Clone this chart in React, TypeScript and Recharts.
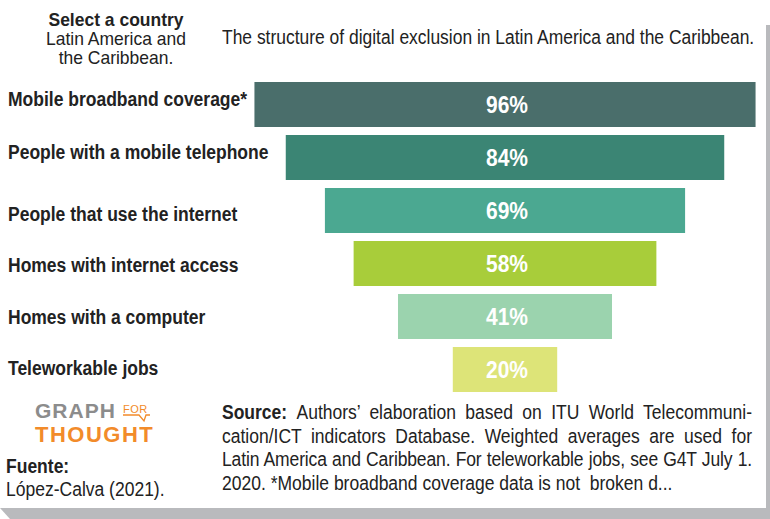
import { BarChart, Bar, XAxis, YAxis, Cell, LabelList } from 'recharts';

const SANS = "'Liberation Sans', Arial, sans-serif";
const SQUEEZE = 0.875; // the original type is a condensed grotesque

// Digital exclusion indicators, Latin America and the Caribbean (%)
const indicators = [
  'Mobile broadband coverage*',
  'People with a mobile telephone',
  'People that use the internet',
  'Homes with internet access',
  'Homes with a computer',
  'Teleworkable jobs',
];
const shares = [96, 84, 69, 58, 41, 20];
const barColors = ['#4a6e6b', '#3b8574', '#4ba891', '#a8cd3a', '#9bd3ae', '#dde478'];

// centred funnel: an invisible pad before each bar
const data = indicators.map((name, i) => ({
  name,
  pad: (100 - shares[i]) / 2,
  value: shares[i],
}));

// the labels in the original sit a little off the bar centres
const tickNudge = [-5.5, -6, 3.5, 1, 0, -1.5];

const sourceLines = [
  'Authors’ elaboration based on ITU World Telecommuni-',
  'cation/ICT indicators Database. Weighted averages are used for',
  'Latin America and Caribbean. For teleworkable jobs, see G4T July 1.',
  '2020. *Mobile broadband coverage data is not  broken d...',
];

const LeftTick = ({ y, payload, index }: any) => (
  <text
    transform={`translate(8, ${y + (tickNudge[index] || 0)}) scale(${SQUEEZE}, 1)`}
    x={0}
    y={0}
    dy="0.35em"
    fontFamily={SANS}
    fontWeight="bold"
    fontSize={20}
    fill="#222"
  >
    {payload.value}
  </text>
);

const PctLabel = ({ x, y, width, height, value }: any) => (
  <text
    transform={`translate(${x + width / 2 + 2}, ${y + height / 2}) scale(${SQUEEZE}, 1)`}
    textAnchor="middle"
    dy="0.35em"
    fontFamily={SANS}
    fontWeight="bold"
    fontSize={24}
    fill="#fff"
  >
    {`${value}%`}
  </text>
);

const squeezed = (origin: string, k = SQUEEZE) => ({
  transform: `scaleX(${k})`,
  transformOrigin: origin,
});

const App = () => {
  return (
    <div
      style={{
        position: 'absolute',
        top: 0,
        left: 0,
        width: 770,
        height: 519,
        background: '#fff',
        overflow: 'hidden',
        fontFamily: SANS,
        color: '#222',
      }}
    >
      {/* card shadow */}
      <div style={{ position: 'absolute', left: 766, top: 25, width: 4, height: 494, background: '#b9babd' }} />
      <div
        style={{
          position: 'absolute',
          left: 0,
          top: 508,
          width: 770,
          height: 11,
          background: '#b9babd',
          clipPath: 'polygon(0 0, 100% 0, 100% 100%, 10px 100%)',
        }}
      />

      <div
        style={{
          position: 'absolute',
          left: 16,
          top: 10,
          width: 200,
          textAlign: 'center',
          fontSize: 19,
          lineHeight: '19px',
          whiteSpace: 'nowrap',
          ...squeezed('center', 0.92),
        }}
      >
        <div style={{ fontWeight: 'bold' }}>Select a country</div>
        <div>Latin America and</div>
        <div>the Caribbean.</div>
      </div>
      <div
        style={{
          position: 'absolute',
          left: 222,
          top: 26,
          fontSize: 20,
          lineHeight: '22px',
          whiteSpace: 'nowrap',
          ...squeezed('left', 0.872),
        }}
      >
        The structure of digital exclusion in Latin America and the Caribbean.
      </div>

      <div style={{ position: 'absolute', left: 0, top: 0 }}>
        <BarChart
          width={770}
          height={519}
          data={data}
          layout="vertical"
          barSize={45}
          margin={{ top: 78, right: 4, bottom: 123, left: 0 }}
        >
          <XAxis type="number" domain={[0, 100]} hide />
          <YAxis type="category" dataKey="name" width={244} axisLine={false} tickLine={false} tick={<LeftTick />} />
          <Bar dataKey="pad" stackId="f" fill="transparent" isAnimationActive={false} />
          <Bar dataKey="value" stackId="f" isAnimationActive={false}>
            {data.map((d, i) => (
              <Cell key={d.name} fill={barColors[i]} />
            ))}
            <LabelList dataKey="value" content={<PctLabel />} />
          </Bar>
        </BarChart>
      </div>

      {/* logo */}
      <div style={{ position: 'absolute', left: 35, top: 400, fontWeight: 'bold', lineHeight: '22px', whiteSpace: 'nowrap' }}>
        <div style={{ fontSize: 21, color: '#8c8c8c', letterSpacing: 1 }}>GRAPH</div>
        <div style={{ fontSize: 22, color: '#f28b2a', letterSpacing: 1.5, marginTop: 2 }}>THOUGHT</div>
      </div>
      <div
        style={{
          position: 'absolute',
          left: 123,
          top: 403,
          fontSize: 11,
          color: '#f28b2a',
          lineHeight: '12px',
          letterSpacing: 0.5,
        }}
      >
        FOR
      </div>
      <svg style={{ position: 'absolute', left: 120, top: 412 }} width={34} height={12}>
        <path d="M3 3 H19 L24 9 L26 3 H30" fill="none" stroke="#f28b2a" strokeWidth={1.3} />
      </svg>

      <div style={{ position: 'absolute', left: 6, top: 455, fontSize: 20, lineHeight: '23px', whiteSpace: 'nowrap', ...squeezed('left') }}>
        <div style={{ fontWeight: 'bold' }}>Fuente:</div>
        <div>López-Calva (2021).</div>
      </div>

      <div
        style={{
          position: 'absolute',
          left: 222,
          top: 401,
          width: 530 / SQUEEZE,
          fontSize: 20,
          lineHeight: '23.5px',
          ...squeezed('left'),
        }}
      >
        {sourceLines.map((line, i) => (
          <div
            key={i}
            style={{
              textAlign: 'justify',
              textAlignLast: i < sourceLines.length - 1 ? 'justify' : 'left',
              whiteSpace: i < sourceLines.length - 1 ? 'nowrap' : 'pre',
              letterSpacing: i === 2 ? -0.15 : 0,
            }}
          >
            {i === 0 && <b>Source: </b>}
            {line}
          </div>
        ))}
      </div>
    </div>
  );
};

export default App;
